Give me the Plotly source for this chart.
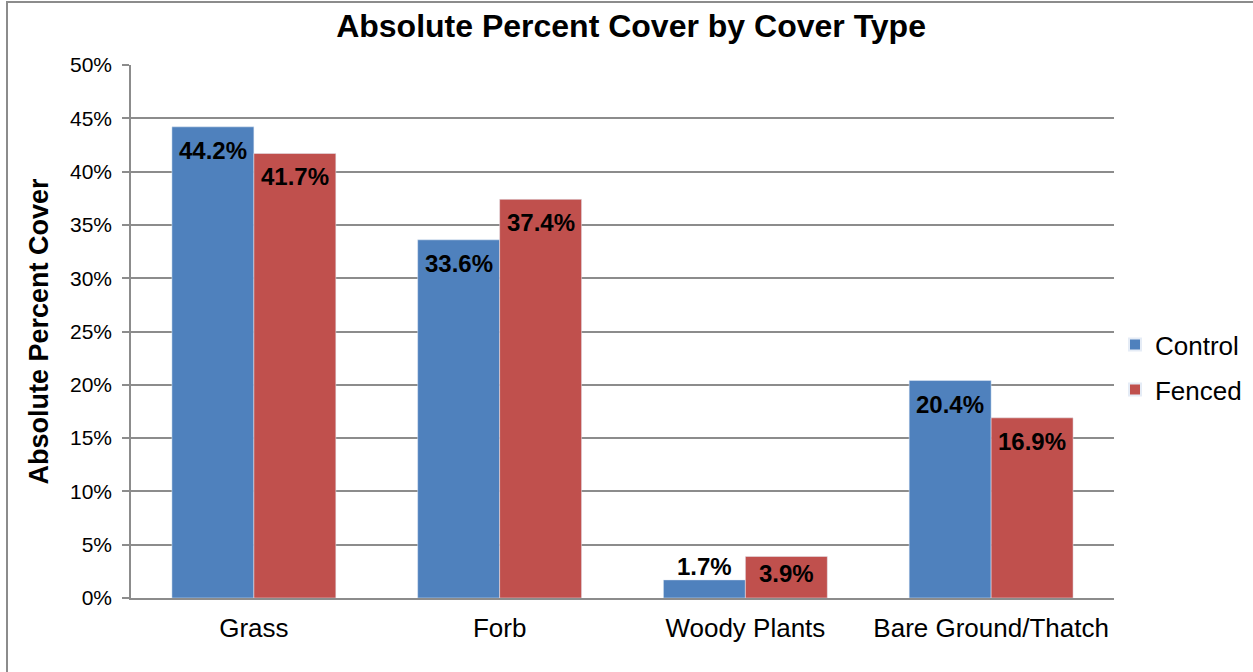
import plotly.graph_objects as go

categories = ["Grass", "Forb", "Woody Plants", "Bare Ground/Thatch"]
control = [44.2, 33.6, 1.7, 20.4]
fenced = [41.7, 37.4, 3.9, 16.9]
y_ticks = [0, 5, 10, 15, 20, 25, 30, 35, 40, 45, 50]

FONT = "Liberation Sans, Arial, sans-serif"
L, R, T, B = 131, 139, 65, 74
W, H = 1253, 672
BARGAP = 0.333
plot_w = W - L - R
half_bar = plot_w / len(categories) * (1 - BARGAP) / 4  # half of one bar's width

fig = go.Figure()
fig.add_trace(go.Bar(name="Control", x=categories, y=control, legendgroup="c",
                     marker=dict(color="#4F81BD")))
fig.add_trace(go.Bar(name="Fenced", x=categories, y=fenced, legendgroup="f",
                     marker=dict(color="#C0504D")))

annotations = []
for vals, sign in ((control, -1), (fenced, 1)):
    for cat, v in zip(categories, vals):
        inside = v >= 3
        annotations.append(dict(
            x=cat, y=v, xref="x", yref="y", text=f"<b>{v:.1f}%</b>", showarrow=False,
            xshift=sign * half_bar, yanchor="top" if inside else "bottom",
            yshift=(-8 if v >= 6 else -2) if inside else -2,
            font=dict(family=FONT, size=24, color="black"),
        ))

fig.update_layout(
    width=W, height=H,
    margin=dict(l=L, r=R, t=T, b=B, autoexpand=False),
    paper_bgcolor="white", plot_bgcolor="white",
    barmode="group", bargap=BARGAP, bargroupgap=0,
    font=dict(family=FONT, color="black"),
    title=dict(text="<b>Absolute Percent Cover by Cover Type</b>", x=0.5087, xref="paper",
               y=0.962, yanchor="middle", xanchor="center",
               font=dict(size=32, family=FONT, color="black")),
    legend=dict(x=1.001, y=0.433, xanchor="left", yanchor="middle",
                font=dict(size=26, family=FONT), itemsizing="constant",
                tracegroupgap=8, bgcolor="rgba(0,0,0,0)"),
    annotations=annotations,
    shapes=[dict(type="rect", xref="paper", yref="paper",
                 x0=(7 - L) / plot_w, x1=(1262 - L) / plot_w,
                 y0=-92 / (H - T - B), y1=(H - B - 2) / (H - T - B),
                 line=dict(color="#8c8c8c", width=2), fillcolor="rgba(0,0,0,0)", layer="below")],
)
fig.update_yaxes(
    range=[0, 50], tickvals=y_ticks, ticktext=[f"{v}%" for v in y_ticks],
    showgrid=True, gridcolor="#8c8c8c", gridwidth=1.5,
    showline=True, linecolor="#8c8c8c", linewidth=1.5,
    ticks="outside", ticklen=7, tickcolor="#8c8c8c", tickwidth=1.5,
    ticklabelstandoff=6,
    tickfont=dict(size=21, family=FONT, color="black"),
    title=dict(text="<b>Absolute Percent Cover</b>", font=dict(size=27, family=FONT), standoff=14),
    zeroline=False,
)
fig.update_xaxes(
    showline=True, linecolor="#8c8c8c", linewidth=1.5,
    tickfont=dict(size=26, family=FONT, color="black"), ticks="",
    ticklabelstandoff=6,
)

fig.write_html("out.html")
